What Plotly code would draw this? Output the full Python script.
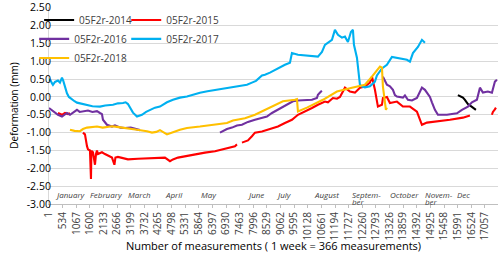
import plotly.graph_objects as go

# ---- data (x = measurement number, y = deformation in mm) ----
x2014 = [16000, 16078, 16196, 16274, 16391, 16548, 16665, 16704]
y2014 = [0.05, 0.02, -0.02, -0.08, -0.20, -0.28, -0.33, -0.36]

x2015 = [352, 430, 509, 626, 743, 822, None,
         1330, 1408, 1487, 1526, 1604, 1643, 1660, 1682, 1721, 1800, 1840, 1878, 1917, 2073, 2191,
         2308, 2465, 2560, 2600, 2699, 3090, 3482, 3873, 4225, 4538, 4734, 4851, 5046, 5320, 5712,
         6103, 6494, 6885, 7276, 7355, None,
         7550, 7785, 7941, 8059, 8333, 8567, 8724, 8958, 9232, 9506, 9741, 10015, 10289, 10523,
         10797, 10914, 11110, 11266, 11384, 11580, 11775, 11971, 12166, 12362, 12558, 12636,
         12753, 12870, 13027, 13066, 13222, 13340, 13614, 13848, 14122, 14396, 14475, 14592,
         14787, 15179, 15687, 16196, 16470, None,
         17330, 17369, 17447, 17487]
y2015 = [-0.45, -0.47, -0.50, -0.45, -0.48, -0.46, None,
         -1.00, -1.05, -1.38, -1.47, -1.50, -2.30, -1.52, -1.52, -1.55, -1.90, -1.60, -1.50, -1.60,
         -1.55, -1.60, -1.65, -1.70, -1.90, -1.70, -1.68, -1.75, -1.73, -1.72, -1.70, -1.70, -1.80,
         -1.75, -1.70, -1.66, -1.60, -1.56, -1.52, -1.46, -1.38, -1.33, None,
         -1.28, -1.22, -1.10, -1.00, -0.97, -0.92, -0.90, -0.83, -0.73, -0.64, -0.50, -0.41,
         -0.31, -0.22, -0.13, -0.15, -0.03, -0.05, 0.00, 0.26, 0.15, 0.12, 0.26, 0.29, 0.40,
         0.57, 0.20, -0.27, -0.22, -0.03, 0.00, -0.17, -0.13, -0.27, -0.27, -0.41, -0.55, -0.78,
         -0.72, -0.69, -0.64, -0.58, -0.52, None,
         -0.50, -0.42, -0.35, -0.30]

x2016 = [1, 100, 235, 352, 509, 626, 704, 822, 1000, 1095, 1200, 1330, 1526, 1700, 1878, 1995,
         2073, 2112, 2191, 2269, 2465, 2582, 2800, 2973, 3200, 3364, 3560, None,
         6690, 6800, 6963, 7159, 7355, 7550, 7785, 8059, 8333, 8528, 8724, 8958, 9232, 9545,
         9741, 10015, 10289, 10484, 10523, 10641, 10680, None,
         13066, 13183, 13222, 13340, 13457, 13535, 13614, 13848, 13927, 14044, 14201, 14396,
         14592, 14709, 14905, 14983, 15100, 15218, 15570, 15961, 16157, 16391, 16548, 16743,
         16861, 16978, 17174, 17330, 17447, 17526]
y2016 = [-0.31, -0.36, -0.45, -0.50, -0.55, -0.48, -0.45, -0.50, -0.42, -0.36, -0.42, -0.41,
         -0.38, -0.42, -0.40, -0.45, -0.48, -0.64, -0.72, -0.78, -0.83, -0.80, -0.86, -0.87,
         -0.86, -0.90, -0.93, None,
         -1.00, -0.95, -0.90, -0.86, -0.80, -0.78, -0.70, -0.64, -0.58, -0.55, -0.45, -0.36,
         -0.25, -0.12, -0.10, -0.08, -0.08, -0.03, 0.06, 0.15, 0.17, None,
         0.57, 0.40, 0.34, 0.30, 0.20, 0.05, 0.01, -0.02, 0.04, -0.08, -0.10, -0.03, 0.26, 0.20,
         0.00, -0.15, -0.36, -0.50, -0.50, -0.46, -0.36, -0.27, -0.15, -0.08, 0.26, 0.12, 0.15,
         0.12, 0.43, 0.48]

x2017 = [1, 39, 120, 156, 235, 352, 430, 509, 560, 626, 704, 780, 900, 1000, 1095, 1300, 1487,
         1700, 1995, 2200, 2504, 2700, 2895, 3000, 3090, 3200, 3286, 3443, 3560, 3638, 3800,
         3951, 4147, 4342, 4616, 4851, 5125, 5399, 5712, 5907, 6200, 6572, 6885, 7159, 7394,
         7746, 7941, 8100, 8333, 8450, 8646, 8841, 9232, 9428, 9506, 9741, 10100, 10523, 10680,
         10797, 11071, 11188, 11306, 11462, 11580, 11697, 11814, 11892, 11932, 12049, 12166,
         12245, 12362, 12558, 12753, 12831, 13027, 13144, 13222, 13418, 13614, 14005, 14122,
         14240, 14435, 14592, 14709]
y2017 = [0.45, 0.50, 0.38, 0.34, 0.42, 0.46, 0.40, 0.54, 0.45, 0.29, 0.10, 0.00, -0.08, -0.12,
         -0.16, -0.20, -0.22, -0.26, -0.27, -0.24, -0.22, -0.18, -0.17, -0.15, -0.20, -0.35,
         -0.44, -0.55, -0.52, -0.50, -0.42, -0.36, -0.30, -0.27, -0.15, -0.08, -0.02, 0.01,
         0.08, 0.12, 0.16, 0.20, 0.24, 0.26, 0.30, 0.34, 0.40, 0.45, 0.60, 0.62, 0.68, 0.76,
         0.90, 0.96, 1.23, 1.18, 1.16, 1.13, 1.26, 1.46, 1.60, 1.88, 1.74, 1.66, 1.69, 1.54,
         1.82, 1.88, 1.46, 1.10, 0.34, 0.29, 0.27, 0.30, 0.43, 0.60, 0.80, 0.85, 0.90, 1.12,
         1.10, 1.04, 0.99, 1.23, 1.40, 1.60, 1.52]

x2018 = [822, 1000, 1213, 1330, 1487, 1700, 1878, 2100, 2269, 2465, 2660, 3051, 3443, 3834,
         4029, 4200, 4342, 4616, 4734, 4851, 5125, 5399, 5907, 6416, 6963, 7198, 7668, 8059,
         8450, 8646, 8841, 9154, 9624, 9702, 9741, 10093, 10719, 11266, 11853, 12362, 12636,
         12831, 12949, 13027, 13066, 13183, 13222]
y2018 = [-0.92, -0.95, -0.96, -0.90, -0.86, -0.84, -0.83, -0.86, -0.85, -0.82, -0.84, -0.87,
         -0.92, -0.96, -1.00, -0.98, -0.93, -1.05, -1.03, -0.99, -0.92, -0.87, -0.83, -0.78,
         -0.73, -0.66, -0.60, -0.50, -0.36, -0.31, -0.22, -0.12, -0.08, -0.06, -0.41, -0.30,
         -0.08, 0.15, 0.26, 0.34, 0.57, 0.76, 0.85, 0.82, 0.29, -0.36, -0.30]

series_names = ["05F2r-2014", "05F2r-2015", "05F2r-2016", "05F2r-2017", "05F2r-2018"]

tick_vals = list(range(1, 17058, 533))
tick_text = [str(v) for v in tick_vals]

y_tick_vals = [-3.0, -2.5, -2.0, -1.5, -1.0, -0.5, 0.0, 0.5, 1.0, 1.5, 2.0, 2.5]
y_tick_text = ["%.2f" % v for v in y_tick_vals]

month_names = ["January", "February", "March", "April", "May", "June", "July", "August",
               "Septem-", "October", "Novem-", "Dec"]
month_x = [156, 1526, 3012, 4460, 5868, 7668, 8802, 10289, 11775, 13261, 14631, 15883]
month_sub = ["", "", "", "", "", "", "", "", "ber", "", "ber", ""]

# ---- figure ----
colors = ["#000000", "#FF0000", "#7030A0", "#00B0F0", "#FFC000"]
xs = [x2014, x2015, x2016, x2017, x2018]
ys = [y2014, y2015, y2016, y2017, y2018]
legend_ids = ["legend", "legend2", "legend3", "legend4", "legend5"]
# legend grid: (column x in paper coords, row y in paper coords)
legend_pos = [(-0.022, 0.934), (0.172, 0.934), (-0.033, 0.838), (0.172, 0.838), (-0.033, 0.741)]

fig = go.Figure()
for name, x, y, c, lg in zip(series_names, xs, ys, colors, legend_ids):
    fig.add_trace(go.Scatter(x=x, y=y, mode="lines", name=name, legend=lg, showlegend=True,
                             line=dict(color=c, width=2.1), connectgaps=False))

FONT = "Open Sans"
for name, mx, sub in zip(month_names, month_x, month_sub):
    fig.add_annotation(x=mx, y=-2.74, text="<i>%s</i>" % name, showarrow=False, xanchor="left",
                       yanchor="middle", font=dict(family=FONT, size=8, color="#404040"))
    if sub:
        fig.add_annotation(x=mx, y=-2.93, text="<i>%s</i>" % sub, showarrow=False,
                           xanchor="left", yanchor="middle",
                           font=dict(family=FONT, size=8, color="#404040"))

legend_layout = {}
for lg, (lx, ly) in zip(legend_ids, legend_pos):
    legend_layout[lg] = dict(x=lx, y=ly, xanchor="left", yanchor="middle", orientation="h",
                             bgcolor="rgba(0,0,0,0)", itemwidth=30, visible=True,
                             font=dict(family=FONT, size=10, color="#404040"))

fig.update_layout(
    width=500, height=253,
    showlegend=True,
    margin=dict(l=49, r=2, t=7, b=49, autoexpand=False),
    paper_bgcolor="white", plot_bgcolor="white",
    font=dict(family=FONT, color="#404040"),
    xaxis=dict(range=[1, 17568], tickmode="array", tickvals=tick_vals, ticktext=tick_text,
               tickangle=-90, tickfont=dict(size=10, color="#404040"), showgrid=False,
               zeroline=False, showline=True, linecolor="#BFBFBF", linewidth=1,
               ticks="outside", ticklen=3, tickcolor="#BFBFBF", automargin=False,
               title=dict(text="Number of measurements ( 1 week = 366 measurements)",
                          font=dict(size=11, color="#000000"), standoff=0)),
    yaxis=dict(range=[-3, 2.52], tickmode="array", tickvals=y_tick_vals, ticktext=y_tick_text,
               automargin=False, ticklabelstandoff=-5,
               tickfont=dict(size=10.5, color="#000000"), showgrid=True, gridcolor="#D9D9D9",
               zeroline=False, showline=True, linecolor="#D9D9D9",
               title=dict(text="Deformation (mm)", font=dict(size=10, color="#000000"),
                          standoff=6)),
    **legend_layout,
)

fig.write_html("out.html", config={"displayModeBar": False},
               post_script="document.body.style.margin='0';document.body.style.padding='0';")
